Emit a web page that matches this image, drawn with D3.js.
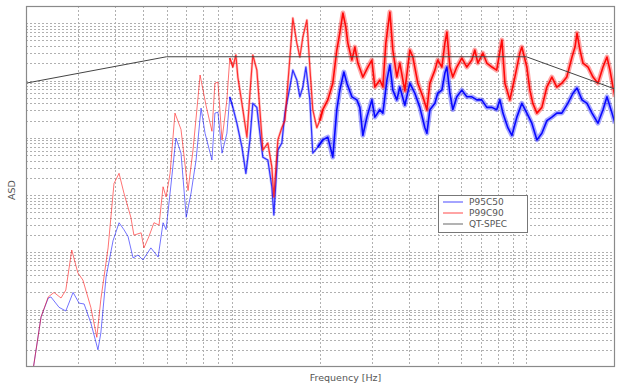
<!DOCTYPE html>
<html>
<head>
<meta charset="utf-8">
<script src="https://cdn.jsdelivr.net/npm/d3@7"></script>
<style>
  body { margin: 0; background: #fff; }
  svg { display: block; font-family: "DejaVu Sans", "Liberation Sans", sans-serif; }
</style>
</head>
<body>
<div id="chart"></div>
<script>
// P95C50 (blue)
const p95Freq = [21.0, 22.5, 23.8, 24.3, 25.9, 27.3, 28.9, 30.3, 31.5, 33.2, 35.1, 35.9, 37.4, 39.5, 41.4, 43.0, 44.4, 46.2, 48.0, 49.9,
  53.1, 56.2, 58.4, 59.8, 61.7, 64.6, 67.2, 70.0, 72.7, 75.6, 78.6, 81.1, 85.6, 87.6, 89.7, 92.6, 96.2, 98.4, 100.8, 104.0,
  108.2, 111.6, 115.2, 117.8, 121.6, 124.5, 127.4, 132.5, 136.7, 138.9, 143.3, 147.8, 151.4, 157.4, 161.1, 166.2, 170.2, 174.2, 178.4, 184.0,
  188.3, 195.8, 203.6, 211.8, 220.2, 227.2, 232.6, 240.1, 245.8, 255.6, 265.8, 272.0, 278.5, 287.4, 298.8, 305.9, 318.1, 325.7, 336.1, 344.0,
  352.1, 363.3, 371.9, 386.8, 402.2, 418.2, 434.9, 452.3, 459.5, 470.4, 489.2, 500, 516.7, 529.0, 537.3, 550.0, 562.7, 580.6, 603.8, 627.8,
  652.9, 679.0, 705.3, 734.2, 763.9, 793.0, 813.3, 832.6, 865.4, 893.0, 928.6, 965.4, 1004, 1044, 1086, 1129, 1174, 1221, 1269, 1320,
  1383, 1440, 1486, 1545, 1607, 1671, 1750, 1821, 1878, 1954, 2000];
const p95Asd = [7.2e-7, 7.5e-6, 1.6e-5, 1.67e-5, 1.1e-5, 9.5e-6, 2.0e-5, 1.3e-5, 1.26e-5, 5.9e-6, 2.0e-6, 3.9e-6, 3.7e-5, 1.6e-4, 3.3e-4, 2.5e-4, 1.9e-4, 8.0e-5, 9.0e-5, 7.4e-5,
  1.2e-4, 8.3e-5, 3.3e-4, 2.5e-4, 1.09e-3, 9.9e-3, 5.4e-3, 4.1e-4, 1.09e-3, 4.1e-3, 3.3e-2, 1.2e-2, 4.1e-3, 2.7e-2, 2.8e-2, 5.4e-3, 1.2e-2, 5.2e-2, 3.4e-2, 1.8e-2,
  6.9e-3, 2.4e-3, 9.2e-3, 4.0e-2, 3.4e-2, 1.2e-2, 4.6e-3, 4.1e-3, 1.4e-3, 4.5e-4, 6.1e-3, 8.1e-3, 2.7e-2, 7.7e-2, 0.152, 0.102, 5.2e-2, 7.7e-2, 0.172, 4.6e-2,
  5.4e-3, 6.9e-3, 9.2e-3, 1.03e-2, 4.6e-3, 3.1e-2, 6.8e-2, 0.141, 9.0e-2, 5.2e-2, 4.6e-2, 3.4e-2, 1.1e-2, 2.3e-2, 4.6e-2, 2.3e-2, 3.1e-2, 2.7e-2, 0.102, 0.186,
  6.8e-2, 4.6e-2, 7.7e-2, 3.7e-2, 9.0e-2, 6.0e-2, 3.4e-2, 1.5e-2, 1.2e-2, 3.1e-2, 4.0e-2, 6.0e-2, 6.8e-2, 0.135, 0.172, 6.0e-2, 3.1e-2, 5.2e-2, 6.8e-2, 5.2e-2,
  5.2e-2, 4.6e-2, 4.6e-2, 3.4e-2, 3.4e-2, 3.1e-2, 4.6e-2, 2.7e-2, 1.5e-2, 1.1e-2, 2.3e-2, 4.0e-2, 2.7e-2, 1.8e-2, 9.2e-3, 1.2e-2, 2.0e-2, 2.3e-2, 2.7e-2, 2.7e-2,
  4.0e-2, 6.0e-2, 7.4e-2, 4.6e-2, 4.0e-2, 2.7e-2, 1.8e-2, 3.1e-2, 5.2e-2, 2.7e-2, 1.8e-2];

// P99C90 (red)
const p99Freq = [21.0, 22.5, 23.8, 24.9, 26.3, 27.3, 28.6, 30.0, 31.2, 33.2, 34.8, 35.9, 38.0, 39.8, 41.4, 43.0, 45.4, 46.5, 49.2, 50.3,
  52.3, 54.4, 56.6, 58.4, 59.8, 61.7, 64.1, 67.2, 71.0, 73.8, 76.8, 78.0, 81.7, 85.6, 87.6, 89.7, 92.6, 96.2, 98.4, 100.8,
  103.2, 104.8, 109.0, 112.5, 115.2, 117.8, 121.6, 124.5, 127.4, 132.5, 136.7, 138.9, 143.3, 147.8, 151.4, 155.0, 159.8, 161.1, 166.2, 170.2,
  174.2, 179.8, 184.0, 188.3, 194.3, 198.9, 203.6, 211.8, 220.2, 227.2, 232.6, 238.3, 243.8, 247.7, 255.6, 261.7, 267.9, 278.5, 289.6, 298.8,
  305.9, 318.1, 325.7, 333.4, 344.0, 352.1, 363.3, 371.9, 386.8, 402.2, 411.8, 428.1, 445.3, 459.5, 470.4, 489.2, 500, 516.7, 529.0, 537.3,
  550.0, 562.7, 580.6, 603.8, 627.8, 652.9, 668.4, 684.3, 711.6, 734.2, 763.9, 793.0, 826.1, 845.8, 879.1, 914.2, 950.4, 965.4, 1004, 1028,
  1052, 1086, 1129, 1174, 1221, 1269, 1320, 1372, 1429, 1463, 1486, 1521, 1557, 1620, 1684, 1750, 1821, 1878, 1923, 1969, 2000];
const p99Asd = [7.2e-7, 7.5e-6, 1.67e-5, 2.0e-5, 1.6e-5, 2.2e-5, 1.1e-4, 4.4e-5, 3.3e-5, 1.1e-5, 3.3e-6, 1.5e-5, 1.2e-4, 1.6e-3, 2.4e-3, 1.09e-3, 4.1e-4, 2.0e-4, 2.2e-4, 1.2e-4,
  1.9e-4, 3.3e-4, 3.0e-4, 1.4e-3, 9.3e-4, 2.4e-3, 2.7e-2, 1.4e-2, 1.2e-3, 6.1e-3, 5.2e-2, 0.125, 3.7e-2, 1.3e-2, 9.0e-2, 9.4e-2, 9.2e-3, 4.6e-2, 0.247, 0.172,
  0.279, 0.115, 3.1e-2, 1.03e-2, 6.0e-2, 0.279, 0.152, 3.1e-2, 6.1e-3, 8.1e-3, 3.1e-3, 9.3e-4, 9.2e-3, 1.5e-2, 2.0e-2, 9.0e-2, 0.675, 1.23, 0.451, 0.257,
  0.574, 1.14, 0.172, 3.1e-2, 1.5e-2, 2.0e-2, 3.1e-2, 4.6e-2, 9.0e-2, 0.341, 0.675, 1.51, 0.858, 0.451, 0.228, 0.384, 0.202, 0.115, 0.172, 0.228,
  7.7e-2, 0.102, 7.7e-2, 0.451, 1.57, 0.341, 0.115, 0.202, 6.6e-2, 0.341, 0.257, 9.0e-2, 5.2e-2, 3.1e-2, 9.0e-2, 0.152, 0.228, 0.172, 0.451, 0.702,
  0.172, 0.115, 0.172, 0.247, 0.172, 0.228, 0.341, 0.202, 0.302, 0.202, 0.172, 0.152, 0.509, 9.0e-2, 4.6e-2, 0.115, 0.302, 0.384, 0.172, 6.8e-2,
  4.0e-2, 2.7e-2, 3.4e-2, 7.7e-2, 0.115, 7.7e-2, 9.0e-2, 0.115, 0.257, 0.384, 0.675, 0.341, 0.202, 0.172, 0.115, 9.0e-2, 0.172, 0.257, 0.152, 7.7e-2, 5.2e-2];

// QT-SPEC (grey)
const specFreq = [20, 60, 1000, 2000];
const specAsd = [0.09, 0.26, 0.26, 0.071];

const legendNames = ["P95C50", "P99C90", "QT-SPEC"];
const legendColors = ["#3333ff", "#ff3333", "#555555"];

const W = 629, H = 383;
const margin = { top: 6, right: 14, bottom: 16, left: 26 };
const iw = W - margin.left - margin.right;
const ih = H - margin.top - margin.bottom;

const svg = d3.select('#chart').append('svg')
  .attr('width', W)
  .attr('height', H);

const x = d3.scaleLog().domain([20, 2000]).range([0, iw]);
const y = d3.scaleLog().domain([1e-6, 2]).range([ih, 0]);

const g = svg.append('g').attr('transform', `translate(${margin.left},${margin.top})`);

// clip so the curves stay inside the box
svg.append('defs').append('clipPath').attr('id', 'plotclip')
  .append('rect').attr('width', iw).attr('height', ih);

// dotted grid, major and minor alike
const grid = g.append('g').attr('class', 'grid')
  .attr('stroke', '#b0b0b0')
  .attr('stroke-width', 1)
  .attr('stroke-dasharray', '2,2');

grid.selectAll('line.vx')
  .data(x.ticks().filter(d => d > 20 && d < 2000))
  .enter().append('line')
  .attr('class', 'vx')
  .attr('x1', d => Math.round(x(d)) + 0.5)
  .attr('x2', d => Math.round(x(d)) + 0.5)
  .attr('y1', 0)
  .attr('y2', ih);

grid.selectAll('line.hy')
  .data(y.ticks().filter(d => d > 1e-6 && d < 2))
  .enter().append('line')
  .attr('class', 'hy')
  .attr('x1', 0)
  .attr('x2', iw)
  .attr('y1', d => Math.round(y(d)) + 0.5)
  .attr('y2', d => Math.round(y(d)) + 0.5);

const line = d3.line()
  .x(d => x(d[0]))
  .y(d => y(d[1]));

const plot = g.append('g').attr('clip-path', 'url(#plotclip)');

// the measured curves turn into a noisy band where the samples get dense:
// a wide faint stroke under a narrower solid one
const bands = [
  { lo: 0, hi: 100, width: 1, opacity: 0.55, halo: 0, haloOpacity: 0 },
  { lo: 100, hi: 200, width: 1.2, opacity: 0.75, halo: 2.6, haloOpacity: 0.25 },
  { lo: 200, hi: 1e9, width: 1.6, opacity: 0.95, halo: 4.8, haloOpacity: 0.35 }
];

function drawSeries(freq, asd, color) {
  const pts = freq.map((f, i) => [f, asd[i]]);
  bands.forEach(b => {
    // keep one point on each side so the pieces join up
    const idx = pts.map((p, i) => i).filter(i => pts[i][0] >= b.lo && pts[i][0] < b.hi);
    if (!idx.length) return;
    const from = Math.max(0, idx[0] - 1);
    const to = Math.min(pts.length - 1, idx[idx.length - 1] + 1);
    const piece = pts.slice(from, to + 1);
    if (b.halo > 0) {
      plot.append('path')
        .datum(piece)
        .attr('fill', 'none')
        .attr('stroke', color)
        .attr('stroke-width', b.halo)
        .attr('stroke-opacity', b.haloOpacity)
        .attr('stroke-linejoin', 'round')
        .attr('d', line);
    }
    plot.append('path')
      .datum(piece)
      .attr('fill', 'none')
      .attr('stroke', color)
      .attr('stroke-width', b.width)
      .attr('stroke-opacity', b.opacity)
      .attr('stroke-linejoin', 'round')
      .attr('d', line);
  });
}

drawSeries(p95Freq, p95Asd, '#0000ff');
drawSeries(p99Freq, p99Asd, '#ff0000');

plot.append('path')
  .datum(specFreq.map((f, i) => [f, specAsd[i]]))
  .attr('fill', 'none')
  .attr('stroke', '#444')
  .attr('stroke-width', 1)
  .attr('d', line);

// axes box
g.append('rect')
  .attr('x', 0.5).attr('y', 0.5)
  .attr('width', iw - 1).attr('height', ih - 1)
  .attr('fill', 'none')
  .attr('stroke', '#8a8a8a')
  .attr('stroke-width', 1.2);

// axis labels
svg.append('text')
  .attr('x', margin.left + iw / 2 + 25)
  .attr('y', 381)
  .attr('text-anchor', 'middle')
  .attr('font-size', 9.5)
  .attr('fill', '#555')
  .text('Frequency [Hz]');

svg.append('text')
  .attr('transform', 'translate(15,190) rotate(-90)')
  .attr('text-anchor', 'middle')
  .attr('font-size', 9.5)
  .attr('fill', '#555')
  .text('ASD');

// legend
const lg = svg.append('g').attr('transform', 'translate(438,195)');
lg.append('rect')
  .attr('x', 0.5).attr('y', 0.5)
  .attr('width', 89).attr('height', 37)
  .attr('fill', '#fff')
  .attr('stroke', '#777')
  .attr('stroke-width', 1);

legendNames.forEach((name, i) => {
  const yy = 7 + i * 11;
  lg.append('line')
    .attr('x1', 5).attr('x2', 25)
    .attr('y1', yy).attr('y2', yy)
    .attr('stroke', legendColors[i])
    .attr('stroke-opacity', 0.6)
    .attr('stroke-width', 1.5);
  lg.append('text')
    .attr('x', 31)
    .attr('y', yy + 3.3)
    .attr('font-size', 9)
    .attr('fill', '#555')
    .text(name);
});
</script>
</body>
</html>
